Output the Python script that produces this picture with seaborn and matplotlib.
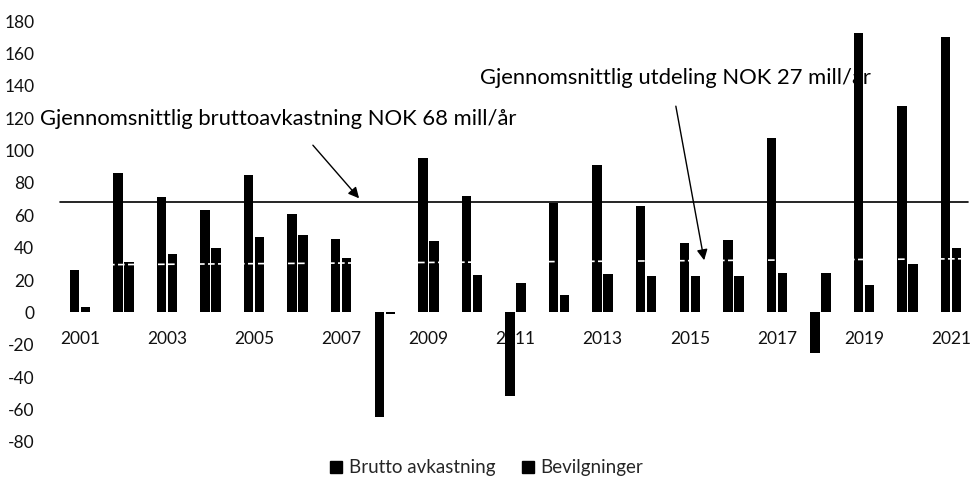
import matplotlib
matplotlib.use("Agg")
import matplotlib.pyplot as plt
import seaborn as sns
import pandas as pd
from matplotlib.patches import Patch

years = [str(y) for y in range(2001, 2022)]
brutto = [26.4, 86.2, 71.3, 63.5, 85.1, 60.6, 45.1, -64.7, 95.4, 71.7, -51.3,
          67.8, 90.9, 65.5, 42.7, 44.5, 107.8, -24.9, 172.3, 127.8, 170.3]
bevilgninger = [3.3, 31.3, 36.3, 39.8, 46.6, 47.6, 33.4, -1.0, 44.1, 23.3, 18.3,
                10.9, 23.7, 22.3, 22.3, 22.3, 24.1, 24.1, 16.9, 29.7, 39.6]
series_names = ["Brutto avkastning", "Bevilgninger"]
avg_brutto = 68
trend_utdeling = [29.3, 33.2]  # white dashed trend line, start/end values
tick_labels = [y if i % 2 == 0 else "" for i, y in enumerate(years)]
yticks = list(range(-80, 181, 20))

df = pd.DataFrame({
    "year": years * 2,
    "value": brutto + bevilgninger,
    "series": [series_names[0]] * len(years) + [series_names[1]] * len(years),
})

sns.set_theme(style="white")
plt.rcParams["font.family"] = ["Lato", "DejaVu Sans"]

fig = plt.figure(figsize=(9.73, 4.91), dpi=100)
ax = fig.add_axes([58 / 973, 1 - 442 / 491, 915 / 973, (442 - 21) / 491])

sns.barplot(data=df, x="year", y="value", hue="series", order=years,
            hue_order=series_names, palette=["black", "black"],
            width=0.505, gap=0.14, ax=ax, legend=False, saturation=1,
            linewidth=0, edgecolor="black")

ax.set_ylim(-80, 180)
ax.set_xlim(-0.5, len(years) - 0.5)
ax.set_yticks(yticks)
ax.set_yticklabels([str(v) for v in yticks])
ax.set_xticks(range(len(years)))
ax.set_xticklabels(tick_labels)
ax.set_xlabel("")
ax.set_ylabel("")
for s in ["top", "right", "left"]:
    ax.spines[s].set_visible(False)
ax.spines["bottom"].set_position(("data", 0))
ax.spines["bottom"].set_visible(False)
ax.tick_params(axis="x", length=0, pad=13, labelsize=12.5, colors="#111111")
ax.tick_params(axis="y", length=0, pad=17, labelsize=12.5, colors="#111111")

# average line for brutto avkastning
ax.axhline(avg_brutto, xmin=0.002, xmax=0.9945, color="black", lw=1.2, zorder=3)
# white dashed trend line over the bars
ax.plot([-0.5, len(years) - 0.5], trend_utdeling, color="white", lw=1.2,
        ls=(0, (4, 2)), zorder=4)

ax.annotate("", xy=(6.41, 70.5), xytext=(5.35, 103.3),
            arrowprops=dict(arrowstyle="-|>", color="black", lw=1.0,
                            mutation_scale=16, shrinkA=0, shrinkB=0))
ax.annotate("", xy=(14.33, 32.2), xytext=(13.68, 127.4),
            arrowprops=dict(arrowstyle="-|>", color="black", lw=1.0,
                            mutation_scale=16, shrinkA=0, shrinkB=0))
ax.text(-0.91, 119.4, "Gjennomsnittlig bruttoavkastning NOK 68 mill/år",
        ha="left", va="center", fontsize=15.8, color="black", clip_on=False)
ax.text(9.19, 144.7, "Gjennomsnittlig utdeling NOK 27 mill/år",
        ha="left", va="center", fontsize=15.8, color="black")

handles = [Patch(facecolor="black", edgecolor="black", label=n) for n in series_names]
fig.legend(handles=handles, loc="center", bbox_to_anchor=(0.5, 1 - 468 / 491),
           ncol=2, frameon=False, fontsize=13.5, handlelength=0.65,
           handleheight=0.65, handletextpad=0.35, columnspacing=1.4)

fig.savefig("out.png", dpi=100)
